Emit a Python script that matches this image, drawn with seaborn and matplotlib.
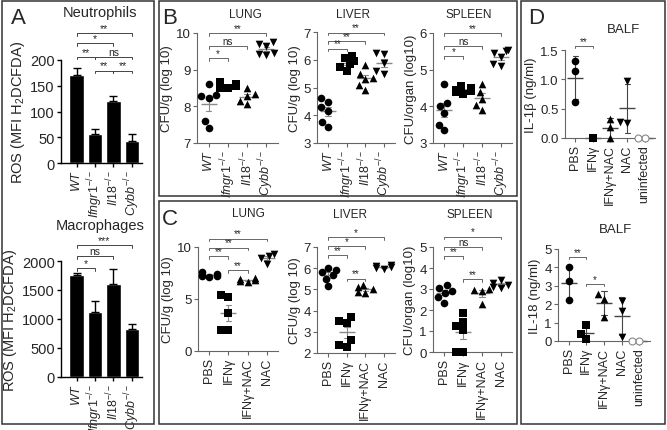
import warnings
import numpy as np
import pandas as pd
import seaborn as sns
import matplotlib.pyplot as plt
import matplotlib as mpl
from matplotlib.patches import Rectangle

warnings.filterwarnings('ignore')

sns.set_style('ticks')
mpl.rcParams['font.family'] = ['Liberation Sans', 'DejaVu Sans']
mpl.rcParams['mathtext.fontset'] = 'custom'
mpl.rcParams['mathtext.rm'] = 'Liberation Sans'
mpl.rcParams['mathtext.it'] = 'Liberation Sans:italic'

W, H = 667, 431

GENO = ['WT', 'Ifngr1', 'Il18', 'Cybb']
GENO_LABELS = [r'$\mathit{WT}$', r'$\mathit{Ifngr1}^{-/-}$',
               r'$\mathit{Il18}^{-/-}$', r'$\mathit{Cybb}^{-/-}$']
TREAT = ['PBS', 'IFNγ', 'IFNγ+NAC', 'NAC']
BALF = ['PBS', 'IFNγ', 'IFNγ+NAC', 'NAC', 'uninfected']

# A: ROS, mean and SEM
neut_mean = [170, 57, 120, 43]
neut_sem = [15, 9, 10, 13]
mac_mean = [1760, 1120, 1600, 830]
mac_sem = [40, 190, 260, 90]

# B: CFU per genotype (WT, Ifngr1, Il18, Cybb)
b_lung = [[8.6, 8.3, 8.28, 8.22, 7.6, 7.42],
          [8.65, 8.6, 8.58, 8.55, 8.5, 8.5],
          [8.5, 8.35, 8.28, 8.15, 8.05],
          [9.75, 9.7, 9.65, 9.45, 9.42, 9.4]]
b_liver = [[4.62, 4.47, 4.3, 4.17, 3.75, 3.58],
           [6.15, 6.05, 5.95, 5.85, 5.75, 5.6],
           [5.82, 5.5, 5.35, 5.3, 5.1, 4.92],
           [6.25, 6.2, 5.9, 5.6, 5.5]]
b_spleen = [[4.6, 4.1, 4.0, 3.82, 3.5, 3.35],
            [4.55, 4.5, 4.45, 4.42, 4.38, 4.35],
            [4.6, 4.4, 4.2, 4.05, 3.9],
            [5.55, 5.5, 5.45, 5.35, 5.15, 5.1]]

# C: CFU per treatment (PBS, IFNγ, IFNγ+NAC, NAC)
c_lung = [[7.6, 7.45, 7.35, 7.25, 7.2, 7.15],
          [5.4, 5.2, 3.7, 2.0, 2.0],
          [7.0, 6.9, 6.8, 6.7, 6.6],
          [9.3, 9.1, 8.9, 8.4]]
c_liver = [[6.0, 5.9, 5.8, 5.7, 5.5, 5.15],
           [3.7, 3.5, 3.4, 2.6, 2.4, 2.3],
           [5.2, 5.1, 5.0, 4.9, 4.85],
           [6.15, 6.1, 6.05, 6.0, 5.95]]
c_spleen = [[3.2, 3.05, 2.9, 2.8, 2.6, 2.35],
            [1.85, 1.45, 1.25, 1.05, 0.0, 0.0],
            [3.0, 2.95, 2.9, 2.3],
            [3.45, 3.3, 3.2, 3.1, 3.05]]

# D: BALF cytokines (ng/ml)
il1b = [[1.32, 1.15, 0.62], [0.0], [0.33, 0.18, 0.0], [0.98, 0.25, 0.28], [0.0, 0.0]]
il18 = [[4.0, 3.25, 2.25], [0.85, 0.4, 0.1], [2.55, 2.3, 1.3], [2.2, 1.65, 0.2], [0.0, 0.0]]

# significance brackets: (from, to, height, label)
sig_neut = [(0, 1, 206, '**'), (1, 3, 206, 'ns'), (1, 2, 179, '**'), (2, 3, 179, '**'),
            (0, 2, 233, '*'), (0, 3, 252, '**')]
sig_mac = [(0, 1, 1880, '*'), (0, 2, 2086, 'ns'), (0, 3, 2276, '***')]
sig_b_lung = [(0, 1, 9.32, '*'), (0, 2, 9.64, 'ns'), (0, 3, 10.0, '**')]
sig_b_liver = [(0, 1, 6.4, '**'), (0, 2, 6.66, '**'), (0, 3, 6.98, '**')]
sig_b_spleen = [(0, 1, 5.37, '*'), (0, 2, 5.64, 'ns'), (0, 3, 6.0, '**')]
sig_c_lung = [(0, 1, 9.13, '**'), (0, 2, 9.94, '**'), (0, 3, 10.8, '**'), (1, 2, 7.76, '**')]
sig_c_liver = [(0, 1, 6.6, '**'), (0, 2, 7.05, '*'), (0, 3, 7.47, '*'), (1, 2, 5.5, '**')]
sig_c_spleen = [(0, 1, 4.57, '**'), (0, 2, 5.0, 'ns'), (0, 3, 5.5, '*'), (1, 2, 3.46, '**')]
sig_il1b = [(0, 1, 1.57, '**')]
sig_il18 = [(0, 1, 4.57, '**'), (1, 2, 3.1, '*')]

MARKERS = ['o', 's', '^', 'v', 'o']
GREY = '#666666'

fig = plt.figure(figsize=(W / 100, H / 100), dpi=100)


def px_rect(x0, x1, y0, y1):
    return [x0 / W, 1 - y1 / H, (x1 - x0) / W, (y1 - y0) / H]


def fig_text(x, y, s, **kw):
    fig.text(x / W, 1 - y / H, s, ha='center', va='center', **kw)


def box(x0, x1, y0, y1):
    fig.add_artist(Rectangle((x0 / W, 1 - y1 / H), (x1 - x0) / W, (y1 - y0) / H,
                             transform=fig.transFigure, fill=False, ec='#333333', lw=1.1))


def brackets(ax, sigs, ylim, color=GREY, fs=7):
    h = 0.025 * (ylim[1] - ylim[0])
    for i, j, y, lab in sigs:
        ax.plot([i, i, j, j], [y - h, y, y, y - h], color=color, lw=0.7, clip_on=False)
        ax.text((i + j) / 2, y + 0.1 * h, lab, ha='center', va='bottom', fontsize=fs,
                clip_on=False)


def style_axes(ax, color, lw):
    sns.despine(ax=ax)
    for s in ['left', 'bottom']:
        ax.spines[s].set_color(color)
        ax.spines[s].set_linewidth(lw)
    ax.tick_params(color=color, width=lw, length=3, pad=1.5)


def bar_panel(rect, means, sems, ylim, yticks, sigs):
    ax = fig.add_axes(px_rect(*rect))
    sns.barplot(x=GENO, y=means, order=GENO, color='black', saturation=1, width=0.8, ax=ax)
    ax.errorbar(range(len(GENO)), means, yerr=[np.zeros(len(sems)), sems], fmt='none',
                ecolor='black', elinewidth=1, capsize=3, capthick=1)
    ax.set_ylim(*ylim)
    ax.set_yticks(yticks)
    ax.set_xlim(-0.85, 3.55)
    ax.set_xticks(range(len(GENO)))
    ax.set_xticklabels(GENO_LABELS, rotation=90, fontsize=9)
    ax.tick_params(axis='y', labelsize=10.5)
    ax.set_ylabel('ROS (MFI H$_2$DCFDA)', fontsize=10.5, labelpad=2)
    style_axes(ax, 'black', 1)
    brackets(ax, sigs, ylim, color='#444444', fs=7.5)
    return ax


def dot_panel(rect, order, labels, values, ylim, yticks, ylabel, sigs,
              err='se', errcolor='#8a8a8a', ytickfmt=None, xlabsize=9):
    ax = fig.add_axes(px_rect(*rect))
    df = pd.DataFrame({'group': np.repeat(order, [len(v) for v in values]),
                       'value': np.concatenate(values)})
    for i, g in enumerate(order):
        sub = df[df['group'] == g]
        if g == 'uninfected':
            sns.swarmplot(data=sub, x='group', y='value', order=order, marker='o', size=5,
                          color='white', edgecolor='#888888', linewidth=0.8, ax=ax)
        else:
            sns.swarmplot(data=sub, x='group', y='value', order=order, marker=MARKERS[i],
                          size=5.5, color='black', linewidth=0, ax=ax)
    sns.pointplot(data=df, x='group', y='value', order=order, errorbar=err,
                  linestyle='none', marker='_', markersize=11, markeredgewidth=1,
                  capsize=0.3, color=errcolor, err_kws={'linewidth': 0.8}, ax=ax)
    for c in ax.collections:
        c.set_clip_on(False)
    for l in ax.lines:
        l.set_clip_on(False)
    ax.set_ylim(*ylim)
    ax.set_yticks(yticks)
    if ytickfmt:
        ax.set_yticklabels([ytickfmt.format(t) for t in yticks])
    ax.set_xlim(-0.6, len(order) - 0.4)
    ax.set_xticks(range(len(order)))
    ax.set_xticklabels(labels, rotation=90, fontsize=xlabsize)
    ax.set_xlabel('')
    ax.tick_params(axis='y', labelsize=9.5)
    ax.set_ylabel(ylabel, fontsize=9.5, labelpad=2)
    style_axes(ax, GREY, 0.8)
    brackets(ax, sigs, ylim, fs=7)
    return ax


# panel frames
box(2, 154, 2, 425)
box(159, 517, 2, 197)
box(159, 517, 202, 425)
box(521, 665, 2, 425)

# A
bar_panel((61, 142, 61, 164), neut_mean, neut_sem, (0, 200), [0, 50, 100, 150, 200], sig_neut)
bar_panel((61, 142, 262, 378), mac_mean, mac_sem, (0, 2000), [0, 500, 1000, 1500, 2000], sig_mac)
fig_text(100, 13, 'Neutrophils', fontsize=10.5)
fig_text(100, 226, 'Macrophages', fontsize=10.5)

# B
dot_panel((197, 278, 34, 144), GENO, GENO_LABELS, b_lung, (7, 10), [7, 8, 9, 10],
          'CFU/g (log 10)', sig_b_lung)
dot_panel((317, 395, 33, 144), GENO, GENO_LABELS, b_liver, (3, 7), [3, 4, 5, 6, 7],
          'CFU/g (log 10)', sig_b_liver)
dot_panel((433, 512, 34, 144), GENO, GENO_LABELS, b_spleen, (3, 6), [3, 4, 5, 6],
          'CFU/organ (log10)', sig_b_spleen)
fig_text(245, 15, 'LUNG', fontsize=8.5)
fig_text(353, 15, 'LIVER', fontsize=8.5)
fig_text(469, 15, 'SPLEEN', fontsize=8.5)

# C
dot_panel((198, 278, 248, 352), TREAT, TREAT, c_lung, (0, 10), [0, 5, 10],
          'CFU/g (log 10)', sig_c_lung)
dot_panel((317, 395, 248, 354), TREAT, TREAT, c_liver, (2, 7), [2, 3, 4, 5, 6, 7],
          'CFU/g (log 10)', sig_c_liver)
dot_panel((433, 512, 248, 353), TREAT, TREAT, c_spleen, (0, 5), [0, 1, 2, 3, 4, 5],
          'CFU/organ (log10)', sig_c_spleen)
fig_text(248, 214, 'LUNG', fontsize=8.5)
fig_text(350, 215, 'LIVER', fontsize=8.5)
fig_text(470, 215, 'SPLEEN', fontsize=8.5)

# D
dot_panel((565, 655, 51, 139), BALF, BALF, il1b, (0, 1.5), [0, 0.5, 1.0, 1.5],
          'IL-1β (ng/ml)', sig_il1b, err='sd', errcolor='#444444', ytickfmt='{:.1f}')
dot_panel((558, 650, 250, 342), BALF, BALF, il18, (0, 5), [0, 1, 2, 3, 4, 5],
          'IL-18 (ng/ml)', sig_il18, err='sd', errcolor='#444444')
fig_text(623, 30, 'BALF', fontsize=9.5)
fig_text(615, 230, 'BALF', fontsize=9.5)

# panel letters
for lab, x, y in [('A', 18, 18), ('B', 170, 18), ('C', 170, 220), ('D', 536, 18)]:
    fig_text(x, y, lab, fontsize=16)

fig.savefig('out.png', dpi=100)
